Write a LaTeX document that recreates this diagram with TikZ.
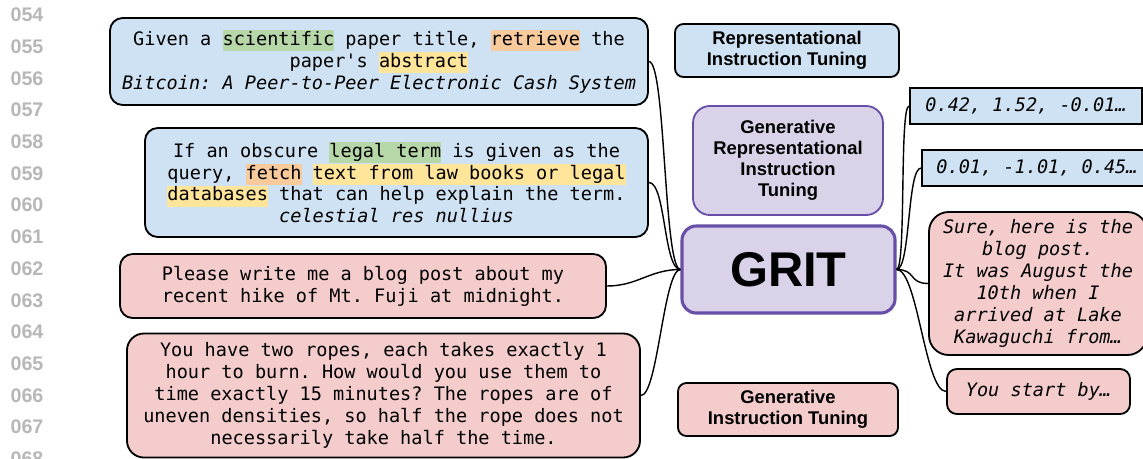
\documentclass[tikz,border=0pt]{standalone}
\usepackage{fontspec}
\setmainfont{Liberation Sans}
\setsansfont{Liberation Sans}
\setmonofont{DejaVu Sans Mono}
\usetikzlibrary{positioning, shapes, arrows.meta, calc}

\definecolor{repblue}{HTML}{CFE2F3}
\definecolor{genpink}{HTML}{F4CCCC}
\definecolor{gritfill}{HTML}{D9D2E9}
\definecolor{gritline}{HTML}{674EA7}
\definecolor{hlgreen}{HTML}{B6D7A8}
\definecolor{hlorange}{HTML}{F9CB9C}
\definecolor{hlyellow}{HTML}{FFE599}
\definecolor{linenum}{HTML}{B7B7B7}

\newcommand{\promptfont}{\ttfamily\fontsize{13.2pt}{15.6pt}\selectfont}
\newcommand{\tagfont}{\sffamily\bfseries\fontsize{13.1pt}{14.9pt}\selectfont}
\newcommand{\hlword}[2]{{\setlength{\fboxsep}{0pt}\colorbox{#1}{\rule[-0.3em]{0pt}{1.12em}#2}}}

\tikzset{
  prompt/.style={draw, line width=1.3pt, rounded corners=9pt, align=center, font=\promptfont, inner sep=0pt},
  tag/.style={draw, line width=1.3pt, rounded corners=6pt, align=center, font=\tagfont, inner sep=0pt},
  vec/.style={draw, line width=1.3pt, fill=repblue, align=center, font=\promptfont\itshape, inner sep=0pt},
  lineno/.style={text=linenum, font=\sffamily\bfseries\fontsize{14pt}{16pt}\selectfont},
  link/.style={line width=1pt, out=0, in=180}
}

\begin{document}
\begin{tikzpicture}[x=0.25mm, y=-0.25mm]
  \useasboundingbox (0,0) rectangle (1143,458);
  \clip (0,0) rectangle (1143,458);

  % Line numbers
  \foreach \n in {54,...,68}
  \node[lineno] (num\n) at (27, {15+(\n-54)*31.7}) {0\n};

  % Prompts
  \node[prompt, fill=repblue, minimum width=134.5mm, minimum height=21.75mm] (q1) at (379,61.5)
    {Given a \hlword{hlgreen}{scientific} paper title, \hlword{hlorange}{retrieve} the\\
     paper's \hlword{hlyellow}{abstract}\\
     \textit{Bitcoin: A Peer-to-Peer Electronic Cash System}};
  \node[prompt, fill=repblue, minimum width=125.75mm, minimum height=27.25mm] (q2) at (396.5,182.5)
    {If an obscure \hlword{hlgreen}{legal term} is given as the\\
     query, \hlword{hlorange}{fetch} \hlword{hlyellow}{text from law books or legal}\\
     \hlword{hlyellow}{databases} that can help explain the term.\\
     \textit{celestial res nullius}};
  \node[prompt, fill=genpink, minimum width=121.5mm, minimum height=16mm] (q3) at (363,286)
    {Please write me a blog post about my\\
     recent hike of Mt. Fuji at midnight.};
  \node[prompt, fill=genpink, rounded corners=12pt, minimum width=128.25mm, minimum height=31mm] (q4) at (383.5,395.5)
    {You have two ropes, each takes exactly 1\\
     hour to burn. How would you use them to\\
     time exactly 15 minutes? The ropes are of\\
     uneven densities, so half the rope does not\\
     necessarily take half the time.};

  % Middle column
  \node[tag, fill=repblue, minimum width=56mm, minimum height=13.25mm] (rep) at (787,50.5)
    {Representational\\ Instruction Tuning};
  \node[tag, draw=gritline, fill=gritfill, rounded corners=12pt, minimum width=47.5mm, minimum height=27.25mm] (grep) at (788,160.5)
    {Generative\\ Representational\\ Instruction\\ Tuning};
  \node[draw=gritline, line width=2.2pt, fill=gritfill, rounded corners=10pt, minimum width=53.25mm, minimum height=21.75mm,
        font=\sffamily\bfseries\fontsize{34.7pt}{40pt}\selectfont] (grit) at (788.5,269.5) {GRIT};
  \node[tag, fill=genpink, minimum width=55mm, minimum height=13.25mm] (gen) at (788,409.5)
    {Generative\\ Instruction Tuning};

  % Outputs
  \node[vec, minimum width=58mm, minimum height=9mm] (v1) at (1026,106) {0.42, 1.52, -0.01…};
  \node[vec, minimum width=57.5mm, minimum height=9mm] (v2) at (1037,168) {0.01, -1.01, 0.45…};
  \node[prompt, fill=genpink, font=\promptfont\itshape, rounded corners=14pt, minimum width=54.5mm, minimum height=35.75mm] (a1) at (1038,283.5)
    {Sure, here is the\\ blog post.\\ It was August the\\ 10th when I\\ arrived at Lake\\ Kawaguchi from…};
  \node[prompt, fill=genpink, font=\promptfont\itshape, rounded corners=7pt, minimum width=45.75mm, minimum height=11.25mm] (a2) at (1038.5,391.5)
    {You start by…};

  % Links
  \foreach \q/\d in {q1/12, q2/12, q3/22, q4/12}
  \draw[link, distance=\d pt] (\q.east) to (grit.west);
  \foreach \a/\d in {v1/7, v2/10, a1/14, a2/15}
  \draw[link, distance=\d pt] (grit.east) to (\a.west);
\end{tikzpicture}
\end{document}
